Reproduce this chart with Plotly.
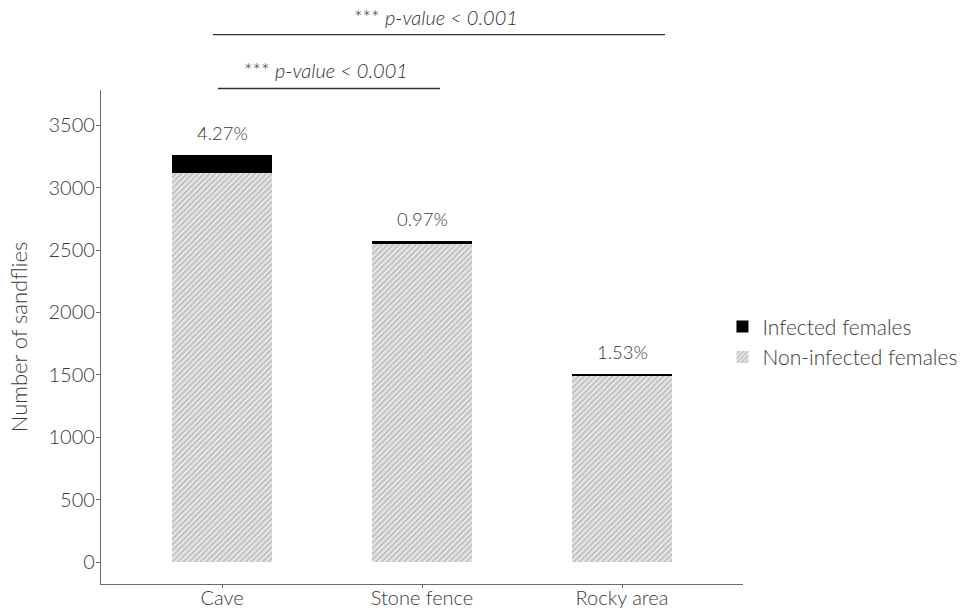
import plotly.graph_objects as go

categories = ["Cave", "Stone fence", "Rocky area"]
infected = [139, 25, 23]
non_infected = [3121, 2547, 1487]
pct_labels = ["4.27%", "0.97%", "1.53%"]
yticks = [0, 500, 1000, 1500, 2000, 2500, 3000, 3500]

xpos = list(range(len(categories)))
totals = [a + b for a, b in zip(infected, non_infected)]

FONT = "Lato"
W = 300
TXT = "#3a3a3a"
AX = "#6a6a6a"

XMIN, XMAX = -0.605, 2.605
YMIN, YMAX = -176, 3782

fig = go.Figure()
fig.add_trace(go.Bar(
    x=xpos, y=non_infected, name="Non-infected females", width=0.5,
    marker=dict(color="#e8e8e8", line=dict(width=0),
                pattern=dict(shape="/", fgcolor="#8e8e8e", bgcolor="#e8e8e8",
                             size=4, solidity=0.45)),
))
fig.add_trace(go.Bar(
    x=xpos, y=infected, name="Infected females", width=0.5,
    marker=dict(color="black", line=dict(width=0)),
))

for x, t, lab in zip(xpos, totals, pct_labels):
    fig.add_annotation(x=x, y=t, text=lab, showarrow=False, yanchor="middle",
                       yshift=22, font=dict(family=FONT, size=18.5, color=TXT, weight=W))

def xd(v):
    return (v - XMIN) / (XMAX - XMIN)

# significance brackets (x in category units, y in paper units above the plot)
brackets = [(-0.045, 2.215, 1.112, 1.148), (-0.02, 1.09, 1.003, 1.04)]
for x0, x1, yl, yt in brackets:
    fig.add_shape(type="line", xref="x domain", yref="paper",
                  x0=xd(x0), x1=xd(x1), y0=yl, y1=yl,
                  line=dict(color="#303030", width=1.3))
    fig.add_annotation(xref="x domain", yref="paper", x=xd((x0 + x1) / 2), y=yt,
                       xanchor="center", yanchor="middle", xshift=-3,
                       text="*** <i>p-value < 0.001</i>", showarrow=False,
                       font=dict(family=FONT, size=20, color="#303030", weight=W))

fig.update_layout(
    width=979, height=610,
    margin=dict(l=101, r=236, t=90, b=26),
    barmode="stack",
    plot_bgcolor="white", paper_bgcolor="white",
    font=dict(family=FONT, color=TXT, weight=W),
    showlegend=True,
    legend=dict(x=0.968, y=0.49, xanchor="left", yanchor="middle",
                traceorder="reversed",
                font=dict(family=FONT, size=21, color=TXT, weight=W),
                itemwidth=30, tracegroupgap=0, bgcolor="rgba(0,0,0,0)"),
    xaxis=dict(range=[XMIN, XMAX], tickvals=xpos, ticktext=categories,
               showline=True, linecolor=AX, linewidth=1.3, showgrid=False,
               zeroline=False, ticks="outside", ticklen=3, tickcolor=AX,
               automargin=False, ticklabelstandoff=-7,
               tickfont=dict(family=FONT, size=20, color=TXT, weight=W)),
    yaxis=dict(range=[YMIN, YMAX], tickvals=yticks,
               showline=True, linecolor=AX, linewidth=1.3, showgrid=False,
               zeroline=False, ticks="outside", ticklen=4, tickcolor=AX,
               automargin=False, ticklabelstandoff=-3,
               tickfont=dict(family=FONT, size=20, color=TXT, weight=W),
               title=dict(text="Number of sandflies", standoff=14,
                          font=dict(family=FONT, size=22, color=TXT, weight=W))),
)

fig.write_html("out.html")
